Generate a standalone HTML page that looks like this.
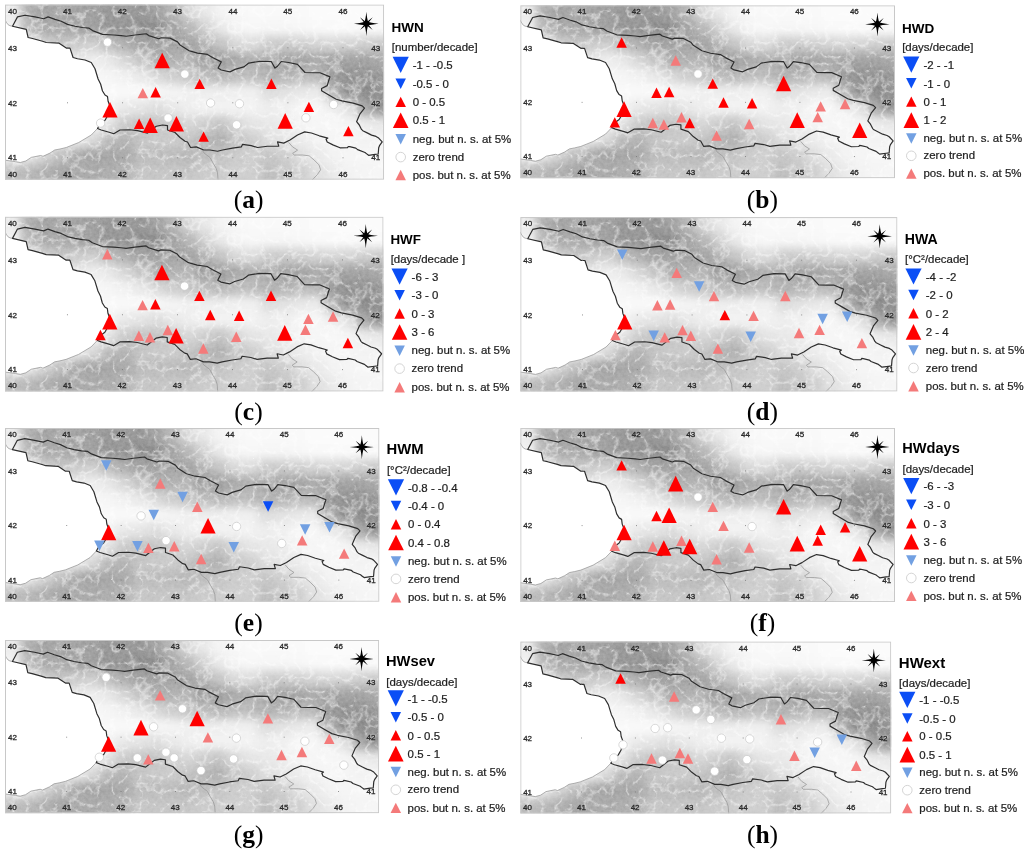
<!DOCTYPE html>
<html><head><meta charset="utf-8"><title>Heat wave indices trends</title>
<style>
html,body{margin:0;padding:0;background:#fff;}
body{width:1024px;height:851px;overflow:hidden;position:relative;}
svg{position:absolute;left:0;top:0;display:block;}
.lg{font-family:"Liberation Sans",Arial,sans-serif;fill:#1e1e1e;stroke:#1e1e1e;stroke-width:0.22px;}
.tt{font-family:"Liberation Sans",Arial,sans-serif;font-weight:bold;fill:#000;}
.lb{font-family:"Liberation Serif","Times New Roman",serif;fill:#000;}
.tk{font-family:"Liberation Sans",Arial,sans-serif;fill:#2a2a2a;stroke:#2a2a2a;stroke-width:0.3px;text-anchor:middle;}
</style></head><body>
<svg width="1024" height="851" viewBox="0 0 1024 851">
<defs><filter id="blur" x="-5%" y="-5%" width="110%" height="110%" color-interpolation-filters="sRGB"><feGaussianBlur in="SourceGraphic" stdDeviation="5" result="base"/><feTurbulence type="turbulence" baseFrequency="0.07" numOctaves="3" seed="11" result="tb"/><feColorMatrix in="tb" type="matrix" values="0 0 0 0 0 0 0 0 0 0 0 0 0 0 0 1 0 0 0 0" result="ta"/><feComponentTransfer in="ta" result="v0"><feFuncA type="linear" slope="-4" intercept="1"/></feComponentTransfer><feGaussianBlur in="v0" stdDeviation="0.35" result="v"/><feColorMatrix in="v" type="matrix" values="0 0 0 1 0 0 0 0 1 0 0 0 0 1 0 0 0 0 0 1" result="vg"/><feComposite in="base" in2="vg" operator="arithmetic" k1="-0.6" k2="1.12" k3="0.6" k4="-0.12" result="b2"/><feTurbulence type="fractalNoise" baseFrequency="0.3" numOctaves="3" seed="7" result="nz"/><feColorMatrix in="nz" type="matrix" values="1 0 0 0 0 1 0 0 0 0 1 0 0 0 0 0 0 0 0 1" result="gn"/><feComposite in="b2" in2="gn" operator="arithmetic" k1="-0.3" k2="1.15" k3="0.3" k4="-0.15"/></filter><clipPath id="mclip"><rect x="5" y="4.5" width="379.1" height="175.2"/></clipPath><symbol id="map" viewBox="5 4.5 379.1 175.2" preserveAspectRatio="none"><g clip-path="url(#mclip)"><g filter="url(#blur)"><rect x="-11" y="-12" width="17" height="17" fill="#eeeeee"/><rect x="5" y="-12" width="17" height="17" fill="#eeeeee"/><rect x="21" y="-12" width="17" height="17" fill="#bababa"/><rect x="37" y="-12" width="17" height="17" fill="#aeaeae"/><rect x="53" y="-12" width="17" height="17" fill="#b4b4b4"/><rect x="69" y="-12" width="17" height="17" fill="#aeaeae"/><rect x="85" y="-12" width="17" height="17" fill="#acacac"/><rect x="101" y="-12" width="17" height="17" fill="#a4a4a4"/><rect x="117" y="-12" width="17" height="17" fill="#a8a8a8"/><rect x="133" y="-12" width="17" height="17" fill="#a4a4a4"/><rect x="149" y="-12" width="17" height="17" fill="#acacac"/><rect x="165" y="-12" width="17" height="17" fill="#c0c0c0"/><rect x="181" y="-12" width="17" height="17" fill="#dcdcdc"/><rect x="197" y="-12" width="17" height="17" fill="#ebebeb"/><rect x="213" y="-12" width="17" height="17" fill="#f5f5f5"/><rect x="229" y="-12" width="17" height="17" fill="#f8f8f8"/><rect x="245" y="-12" width="17" height="17" fill="#fafafa"/><rect x="261" y="-12" width="17" height="17" fill="#fafafa"/><rect x="277" y="-12" width="17" height="17" fill="#fafafa"/><rect x="293" y="-12" width="17" height="17" fill="#fafafa"/><rect x="309" y="-12" width="17" height="17" fill="#fbfbfb"/><rect x="325" y="-12" width="17" height="17" fill="#fbfbfb"/><rect x="341" y="-12" width="17" height="17" fill="#fbfbfb"/><rect x="357" y="-12" width="17" height="17" fill="#fbfbfb"/><rect x="373" y="-12" width="17" height="17" fill="#fbfbfb"/><rect x="389" y="-12" width="17" height="17" fill="#fbfbfb"/><rect x="-11" y="4" width="17" height="17" fill="#eeeeee"/><rect x="5" y="4" width="17" height="17" fill="#eeeeee"/><rect x="21" y="4" width="17" height="17" fill="#bababa"/><rect x="37" y="4" width="17" height="17" fill="#aeaeae"/><rect x="53" y="4" width="17" height="17" fill="#b4b4b4"/><rect x="69" y="4" width="17" height="17" fill="#aeaeae"/><rect x="85" y="4" width="17" height="17" fill="#acacac"/><rect x="101" y="4" width="17" height="17" fill="#a4a4a4"/><rect x="117" y="4" width="17" height="17" fill="#a8a8a8"/><rect x="133" y="4" width="17" height="17" fill="#a4a4a4"/><rect x="149" y="4" width="17" height="17" fill="#acacac"/><rect x="165" y="4" width="17" height="17" fill="#c0c0c0"/><rect x="181" y="4" width="17" height="17" fill="#dcdcdc"/><rect x="197" y="4" width="17" height="17" fill="#ebebeb"/><rect x="213" y="4" width="17" height="17" fill="#f5f5f5"/><rect x="229" y="4" width="17" height="17" fill="#f8f8f8"/><rect x="245" y="4" width="17" height="17" fill="#fafafa"/><rect x="261" y="4" width="17" height="17" fill="#fafafa"/><rect x="277" y="4" width="17" height="17" fill="#fafafa"/><rect x="293" y="4" width="17" height="17" fill="#fafafa"/><rect x="309" y="4" width="17" height="17" fill="#fbfbfb"/><rect x="325" y="4" width="17" height="17" fill="#fbfbfb"/><rect x="341" y="4" width="17" height="17" fill="#fbfbfb"/><rect x="357" y="4" width="17" height="17" fill="#fbfbfb"/><rect x="373" y="4" width="17" height="17" fill="#fbfbfb"/><rect x="389" y="4" width="17" height="17" fill="#fbfbfb"/><rect x="-11" y="20" width="17" height="17" fill="#f5f5f5"/><rect x="5" y="20" width="17" height="17" fill="#f5f5f5"/><rect x="21" y="20" width="17" height="17" fill="#c0c0c0"/><rect x="37" y="20" width="17" height="17" fill="#b4b4b4"/><rect x="53" y="20" width="17" height="17" fill="#b4b4b4"/><rect x="69" y="20" width="17" height="17" fill="#aeaeae"/><rect x="85" y="20" width="17" height="17" fill="#acacac"/><rect x="101" y="20" width="17" height="17" fill="#a2a2a2"/><rect x="117" y="20" width="17" height="17" fill="#a2a2a2"/><rect x="133" y="20" width="17" height="17" fill="#9c9c9c"/><rect x="149" y="20" width="17" height="17" fill="#9c9c9c"/><rect x="165" y="20" width="17" height="17" fill="#aeaeae"/><rect x="181" y="20" width="17" height="17" fill="#c0c0c0"/><rect x="197" y="20" width="17" height="17" fill="#d7d7d7"/><rect x="213" y="20" width="17" height="17" fill="#ebebeb"/><rect x="229" y="20" width="17" height="17" fill="#f5f5f5"/><rect x="245" y="20" width="17" height="17" fill="#f8f8f8"/><rect x="261" y="20" width="17" height="17" fill="#f7f7f7"/><rect x="277" y="20" width="17" height="17" fill="#f7f7f7"/><rect x="293" y="20" width="17" height="17" fill="#f8f8f8"/><rect x="309" y="20" width="17" height="17" fill="#fafafa"/><rect x="325" y="20" width="17" height="17" fill="#fafafa"/><rect x="341" y="20" width="17" height="17" fill="#fafafa"/><rect x="357" y="20" width="17" height="17" fill="#fafafa"/><rect x="373" y="20" width="17" height="17" fill="#fafafa"/><rect x="389" y="20" width="17" height="17" fill="#fafafa"/><rect x="-11" y="36" width="17" height="17" fill="#fcfcfc"/><rect x="5" y="36" width="17" height="17" fill="#fcfcfc"/><rect x="21" y="36" width="17" height="17" fill="#f5f5f5"/><rect x="37" y="36" width="17" height="17" fill="#d7d7d7"/><rect x="53" y="36" width="17" height="17" fill="#cccccc"/><rect x="69" y="36" width="17" height="17" fill="#d2d2d2"/><rect x="85" y="36" width="17" height="17" fill="#d7d7d7"/><rect x="101" y="36" width="17" height="17" fill="#c6c6c6"/><rect x="117" y="36" width="17" height="17" fill="#bababa"/><rect x="133" y="36" width="17" height="17" fill="#aeaeae"/><rect x="149" y="36" width="17" height="17" fill="#aeaeae"/><rect x="165" y="36" width="17" height="17" fill="#aeaeae"/><rect x="181" y="36" width="17" height="17" fill="#aeaeae"/><rect x="197" y="36" width="17" height="17" fill="#bababa"/><rect x="213" y="36" width="17" height="17" fill="#cccccc"/><rect x="229" y="36" width="17" height="17" fill="#dedede"/><rect x="245" y="36" width="17" height="17" fill="#e1e1e1"/><rect x="261" y="36" width="17" height="17" fill="#d2d2d2"/><rect x="277" y="36" width="17" height="17" fill="#d2d2d2"/><rect x="293" y="36" width="17" height="17" fill="#d5d5d5"/><rect x="309" y="36" width="17" height="17" fill="#d9d9d9"/><rect x="325" y="36" width="17" height="17" fill="#dcdcdc"/><rect x="341" y="36" width="17" height="17" fill="#d9d9d9"/><rect x="357" y="36" width="17" height="17" fill="#d5d5d5"/><rect x="373" y="36" width="17" height="17" fill="#d2d2d2"/><rect x="389" y="36" width="17" height="17" fill="#d2d2d2"/><rect x="-11" y="52" width="17" height="17" fill="#fcfcfc"/><rect x="5" y="52" width="17" height="17" fill="#fcfcfc"/><rect x="21" y="52" width="17" height="17" fill="#fcfcfc"/><rect x="37" y="52" width="17" height="17" fill="#fcfcfc"/><rect x="53" y="52" width="17" height="17" fill="#f0f0f0"/><rect x="69" y="52" width="17" height="17" fill="#ebebeb"/><rect x="85" y="52" width="17" height="17" fill="#f0f0f0"/><rect x="101" y="52" width="17" height="17" fill="#ebebeb"/><rect x="117" y="52" width="17" height="17" fill="#dcdcdc"/><rect x="133" y="52" width="17" height="17" fill="#cccccc"/><rect x="149" y="52" width="17" height="17" fill="#bababa"/><rect x="165" y="52" width="17" height="17" fill="#bababa"/><rect x="181" y="52" width="17" height="17" fill="#c0c0c0"/><rect x="197" y="52" width="17" height="17" fill="#a8a8a8"/><rect x="213" y="52" width="17" height="17" fill="#a8a8a8"/><rect x="229" y="52" width="17" height="17" fill="#b4b4b4"/><rect x="245" y="52" width="17" height="17" fill="#bababa"/><rect x="261" y="52" width="17" height="17" fill="#b4b4b4"/><rect x="277" y="52" width="17" height="17" fill="#aeaeae"/><rect x="293" y="52" width="17" height="17" fill="#aeaeae"/><rect x="309" y="52" width="17" height="17" fill="#b4b4b4"/><rect x="325" y="52" width="17" height="17" fill="#aeaeae"/><rect x="341" y="52" width="17" height="17" fill="#aeaeae"/><rect x="357" y="52" width="17" height="17" fill="#aeaeae"/><rect x="373" y="52" width="17" height="17" fill="#b4b4b4"/><rect x="389" y="52" width="17" height="17" fill="#b4b4b4"/><rect x="-11" y="68" width="17" height="17" fill="#fcfcfc"/><rect x="5" y="68" width="17" height="17" fill="#fcfcfc"/><rect x="21" y="68" width="17" height="17" fill="#fcfcfc"/><rect x="37" y="68" width="17" height="17" fill="#fcfcfc"/><rect x="53" y="68" width="17" height="17" fill="#fcfcfc"/><rect x="69" y="68" width="17" height="17" fill="#fafafa"/><rect x="85" y="68" width="17" height="17" fill="#f8f8f8"/><rect x="101" y="68" width="17" height="17" fill="#f6f6f6"/><rect x="117" y="68" width="17" height="17" fill="#f2f2f2"/><rect x="133" y="68" width="17" height="17" fill="#ebebeb"/><rect x="149" y="68" width="17" height="17" fill="#dedede"/><rect x="165" y="68" width="17" height="17" fill="#d4d4d4"/><rect x="181" y="68" width="17" height="17" fill="#cccccc"/><rect x="197" y="68" width="17" height="17" fill="#c5c5c5"/><rect x="213" y="68" width="17" height="17" fill="#bfbfbf"/><rect x="229" y="68" width="17" height="17" fill="#c5c5c5"/><rect x="245" y="68" width="17" height="17" fill="#c5c5c5"/><rect x="261" y="68" width="17" height="17" fill="#bcbcbc"/><rect x="277" y="68" width="17" height="17" fill="#bcbcbc"/><rect x="293" y="68" width="17" height="17" fill="#c2c2c2"/><rect x="309" y="68" width="17" height="17" fill="#c2c2c2"/><rect x="325" y="68" width="17" height="17" fill="#a6a6a6"/><rect x="341" y="68" width="17" height="17" fill="#a0a0a0"/><rect x="357" y="68" width="17" height="17" fill="#a0a0a0"/><rect x="373" y="68" width="17" height="17" fill="#a6a6a6"/><rect x="389" y="68" width="17" height="17" fill="#a6a6a6"/><rect x="-11" y="84" width="17" height="17" fill="#fcfcfc"/><rect x="5" y="84" width="17" height="17" fill="#fcfcfc"/><rect x="21" y="84" width="17" height="17" fill="#fcfcfc"/><rect x="37" y="84" width="17" height="17" fill="#fcfcfc"/><rect x="53" y="84" width="17" height="17" fill="#fcfcfc"/><rect x="69" y="84" width="17" height="17" fill="#fcfcfc"/><rect x="85" y="84" width="17" height="17" fill="#fcfcfc"/><rect x="101" y="84" width="17" height="17" fill="#fafafa"/><rect x="117" y="84" width="17" height="17" fill="#fafafa"/><rect x="133" y="84" width="17" height="17" fill="#fafafa"/><rect x="149" y="84" width="17" height="17" fill="#f8f8f8"/><rect x="165" y="84" width="17" height="17" fill="#f5f5f5"/><rect x="181" y="84" width="17" height="17" fill="#f2f2f2"/><rect x="197" y="84" width="17" height="17" fill="#f0f0f0"/><rect x="213" y="84" width="17" height="17" fill="#f0f0f0"/><rect x="229" y="84" width="17" height="17" fill="#f2f2f2"/><rect x="245" y="84" width="17" height="17" fill="#f2f2f2"/><rect x="261" y="84" width="17" height="17" fill="#e1e1e1"/><rect x="277" y="84" width="17" height="17" fill="#e6e6e6"/><rect x="293" y="84" width="17" height="17" fill="#ebebeb"/><rect x="309" y="84" width="17" height="17" fill="#eeeeee"/><rect x="325" y="84" width="17" height="17" fill="#bebebe"/><rect x="341" y="84" width="17" height="17" fill="#9d9d9d"/><rect x="357" y="84" width="17" height="17" fill="#9a9a9a"/><rect x="373" y="84" width="17" height="17" fill="#9d9d9d"/><rect x="389" y="84" width="17" height="17" fill="#9d9d9d"/><rect x="-11" y="100" width="17" height="17" fill="#fcfcfc"/><rect x="5" y="100" width="17" height="17" fill="#fcfcfc"/><rect x="21" y="100" width="17" height="17" fill="#fcfcfc"/><rect x="37" y="100" width="17" height="17" fill="#fcfcfc"/><rect x="53" y="100" width="17" height="17" fill="#fcfcfc"/><rect x="69" y="100" width="17" height="17" fill="#fcfcfc"/><rect x="85" y="100" width="17" height="17" fill="#fcfcfc"/><rect x="101" y="100" width="17" height="17" fill="#f5f5f5"/><rect x="117" y="100" width="17" height="17" fill="#ebebeb"/><rect x="133" y="100" width="17" height="17" fill="#e8e8e8"/><rect x="149" y="100" width="17" height="17" fill="#e1e1e1"/><rect x="165" y="100" width="17" height="17" fill="#ebebeb"/><rect x="181" y="100" width="17" height="17" fill="#f0f0f0"/><rect x="197" y="100" width="17" height="17" fill="#f4f4f4"/><rect x="213" y="100" width="17" height="17" fill="#f4f4f4"/><rect x="229" y="100" width="17" height="17" fill="#f4f4f4"/><rect x="245" y="100" width="17" height="17" fill="#f4f4f4"/><rect x="261" y="100" width="17" height="17" fill="#f0f0f0"/><rect x="277" y="100" width="17" height="17" fill="#f2f2f2"/><rect x="293" y="100" width="17" height="17" fill="#f6f6f6"/><rect x="309" y="100" width="17" height="17" fill="#f8f8f8"/><rect x="325" y="100" width="17" height="17" fill="#f0f0f0"/><rect x="341" y="100" width="17" height="17" fill="#e4e4e4"/><rect x="357" y="100" width="17" height="17" fill="#b4b4b4"/><rect x="373" y="100" width="17" height="17" fill="#a2a2a2"/><rect x="389" y="100" width="17" height="17" fill="#a2a2a2"/><rect x="-11" y="116" width="17" height="17" fill="#fcfcfc"/><rect x="5" y="116" width="17" height="17" fill="#fcfcfc"/><rect x="21" y="116" width="17" height="17" fill="#fcfcfc"/><rect x="37" y="116" width="17" height="17" fill="#fcfcfc"/><rect x="53" y="116" width="17" height="17" fill="#fcfcfc"/><rect x="69" y="116" width="17" height="17" fill="#fcfcfc"/><rect x="85" y="116" width="17" height="17" fill="#fafafa"/><rect x="101" y="116" width="17" height="17" fill="#e6e6e6"/><rect x="117" y="116" width="17" height="17" fill="#d2d2d2"/><rect x="133" y="116" width="17" height="17" fill="#cccccc"/><rect x="149" y="116" width="17" height="17" fill="#cccccc"/><rect x="165" y="116" width="17" height="17" fill="#d4d4d4"/><rect x="181" y="116" width="17" height="17" fill="#dcdcdc"/><rect x="197" y="116" width="17" height="17" fill="#d4d4d4"/><rect x="213" y="116" width="17" height="17" fill="#cccccc"/><rect x="229" y="116" width="17" height="17" fill="#dedede"/><rect x="245" y="116" width="17" height="17" fill="#e8e8e8"/><rect x="261" y="116" width="17" height="17" fill="#ebebeb"/><rect x="277" y="116" width="17" height="17" fill="#eeeeee"/><rect x="293" y="116" width="17" height="17" fill="#f5f5f5"/><rect x="309" y="116" width="17" height="17" fill="#f7f7f7"/><rect x="325" y="116" width="17" height="17" fill="#f8f8f8"/><rect x="341" y="116" width="17" height="17" fill="#f6f6f6"/><rect x="357" y="116" width="17" height="17" fill="#eeeeee"/><rect x="373" y="116" width="17" height="17" fill="#ebebeb"/><rect x="389" y="116" width="17" height="17" fill="#ebebeb"/><rect x="-11" y="132" width="17" height="17" fill="#fcfcfc"/><rect x="5" y="132" width="17" height="17" fill="#fcfcfc"/><rect x="21" y="132" width="17" height="17" fill="#fcfcfc"/><rect x="37" y="132" width="17" height="17" fill="#fcfcfc"/><rect x="53" y="132" width="17" height="17" fill="#fcfcfc"/><rect x="69" y="132" width="17" height="17" fill="#f0f0f0"/><rect x="85" y="132" width="17" height="17" fill="#dedede"/><rect x="101" y="132" width="17" height="17" fill="#c5c5c5"/><rect x="117" y="132" width="17" height="17" fill="#bcbcbc"/><rect x="133" y="132" width="17" height="17" fill="#cccccc"/><rect x="149" y="132" width="17" height="17" fill="#d0d0d0"/><rect x="165" y="132" width="17" height="17" fill="#d2d2d2"/><rect x="181" y="132" width="17" height="17" fill="#cccccc"/><rect x="197" y="132" width="17" height="17" fill="#c0c0c0"/><rect x="213" y="132" width="17" height="17" fill="#bababa"/><rect x="229" y="132" width="17" height="17" fill="#cccccc"/><rect x="245" y="132" width="17" height="17" fill="#d4d4d4"/><rect x="261" y="132" width="17" height="17" fill="#e2e2e2"/><rect x="277" y="132" width="17" height="17" fill="#e8e8e8"/><rect x="293" y="132" width="17" height="17" fill="#eeeeee"/><rect x="309" y="132" width="17" height="17" fill="#f4f4f4"/><rect x="325" y="132" width="17" height="17" fill="#f6f6f6"/><rect x="341" y="132" width="17" height="17" fill="#f6f6f6"/><rect x="357" y="132" width="17" height="17" fill="#f4f4f4"/><rect x="373" y="132" width="17" height="17" fill="#f5f5f5"/><rect x="389" y="132" width="17" height="17" fill="#f5f5f5"/><rect x="-11" y="148" width="17" height="17" fill="#f5f5f5"/><rect x="5" y="148" width="17" height="17" fill="#f5f5f5"/><rect x="21" y="148" width="17" height="17" fill="#ebebeb"/><rect x="37" y="148" width="17" height="17" fill="#d7d7d7"/><rect x="53" y="148" width="17" height="17" fill="#c6c6c6"/><rect x="69" y="148" width="17" height="17" fill="#b4b4b4"/><rect x="85" y="148" width="17" height="17" fill="#b0b0b0"/><rect x="101" y="148" width="17" height="17" fill="#b0b0b0"/><rect x="117" y="148" width="17" height="17" fill="#b4b4b4"/><rect x="133" y="148" width="17" height="17" fill="#c4c4c4"/><rect x="149" y="148" width="17" height="17" fill="#c4c4c4"/><rect x="165" y="148" width="17" height="17" fill="#c4c4c4"/><rect x="181" y="148" width="17" height="17" fill="#c0c0c0"/><rect x="197" y="148" width="17" height="17" fill="#c6c6c6"/><rect x="213" y="148" width="17" height="17" fill="#cccccc"/><rect x="229" y="148" width="17" height="17" fill="#d2d2d2"/><rect x="245" y="148" width="17" height="17" fill="#d4d4d4"/><rect x="261" y="148" width="17" height="17" fill="#cccccc"/><rect x="277" y="148" width="17" height="17" fill="#d4d4d4"/><rect x="293" y="148" width="17" height="17" fill="#e4e4e4"/><rect x="309" y="148" width="17" height="17" fill="#ececec"/><rect x="325" y="148" width="17" height="17" fill="#f4f4f4"/><rect x="341" y="148" width="17" height="17" fill="#f6f6f6"/><rect x="357" y="148" width="17" height="17" fill="#f7f7f7"/><rect x="373" y="148" width="17" height="17" fill="#f7f7f7"/><rect x="389" y="148" width="17" height="17" fill="#f7f7f7"/><rect x="-11" y="164" width="17" height="17" fill="#c6c6c6"/><rect x="5" y="164" width="17" height="17" fill="#c6c6c6"/><rect x="21" y="164" width="17" height="17" fill="#c0c0c0"/><rect x="37" y="164" width="17" height="17" fill="#bababa"/><rect x="53" y="164" width="17" height="17" fill="#b0b0b0"/><rect x="69" y="164" width="17" height="17" fill="#b4b4b4"/><rect x="85" y="164" width="17" height="17" fill="#b4b4b4"/><rect x="101" y="164" width="17" height="17" fill="#b8b8b8"/><rect x="117" y="164" width="17" height="17" fill="#bcbcbc"/><rect x="133" y="164" width="17" height="17" fill="#cccccc"/><rect x="149" y="164" width="17" height="17" fill="#cccccc"/><rect x="165" y="164" width="17" height="17" fill="#cccccc"/><rect x="181" y="164" width="17" height="17" fill="#cccccc"/><rect x="197" y="164" width="17" height="17" fill="#d2d2d2"/><rect x="213" y="164" width="17" height="17" fill="#d2d2d2"/><rect x="229" y="164" width="17" height="17" fill="#d4d4d4"/><rect x="245" y="164" width="17" height="17" fill="#d4d4d4"/><rect x="261" y="164" width="17" height="17" fill="#c6c6c6"/><rect x="277" y="164" width="17" height="17" fill="#cccccc"/><rect x="293" y="164" width="17" height="17" fill="#d4d4d4"/><rect x="309" y="164" width="17" height="17" fill="#e4e4e4"/><rect x="325" y="164" width="17" height="17" fill="#ececec"/><rect x="341" y="164" width="17" height="17" fill="#f4f4f4"/><rect x="357" y="164" width="17" height="17" fill="#f6f6f6"/><rect x="373" y="164" width="17" height="17" fill="#f7f7f7"/><rect x="389" y="164" width="17" height="17" fill="#f7f7f7"/><rect x="-11" y="180" width="17" height="17" fill="#c6c6c6"/><rect x="5" y="180" width="17" height="17" fill="#c6c6c6"/><rect x="21" y="180" width="17" height="17" fill="#c0c0c0"/><rect x="37" y="180" width="17" height="17" fill="#bababa"/><rect x="53" y="180" width="17" height="17" fill="#b0b0b0"/><rect x="69" y="180" width="17" height="17" fill="#b4b4b4"/><rect x="85" y="180" width="17" height="17" fill="#b4b4b4"/><rect x="101" y="180" width="17" height="17" fill="#b8b8b8"/><rect x="117" y="180" width="17" height="17" fill="#bcbcbc"/><rect x="133" y="180" width="17" height="17" fill="#cccccc"/><rect x="149" y="180" width="17" height="17" fill="#cccccc"/><rect x="165" y="180" width="17" height="17" fill="#cccccc"/><rect x="181" y="180" width="17" height="17" fill="#cccccc"/><rect x="197" y="180" width="17" height="17" fill="#d2d2d2"/><rect x="213" y="180" width="17" height="17" fill="#d2d2d2"/><rect x="229" y="180" width="17" height="17" fill="#d4d4d4"/><rect x="245" y="180" width="17" height="17" fill="#d4d4d4"/><rect x="261" y="180" width="17" height="17" fill="#c6c6c6"/><rect x="277" y="180" width="17" height="17" fill="#cccccc"/><rect x="293" y="180" width="17" height="17" fill="#d4d4d4"/><rect x="309" y="180" width="17" height="17" fill="#e4e4e4"/><rect x="325" y="180" width="17" height="17" fill="#ececec"/><rect x="341" y="180" width="17" height="17" fill="#f4f4f4"/><rect x="357" y="180" width="17" height="17" fill="#f6f6f6"/><rect x="373" y="180" width="17" height="17" fill="#f7f7f7"/><rect x="389" y="180" width="17" height="17" fill="#f7f7f7"/></g><polygon points="4,19.2 6.5,22.5 8.1,24.7 10,25.7 12.5,26.25 26.25,29.4 28.1,37.5 32.5,38.5 42.5,41.25 46.25,42.5 58.75,43.1 66.25,48.1 70,48.1 73.1,57.5 77.5,58.75 85,60 91.25,62.5 95,68.75 98.1,79 100.6,84 102.5,91 105,95 107.5,96.5 108.1,101.25 110,106.25 108,115 105,120.25 100,124 97.5,128.5 91.25,135 78.75,142.5 66.25,147.5 60,149 54.7,150 50,153.1 43,156.3 40.6,155.5 31.3,157.4 25.8,161 20.3,162.5 15.6,161.7 4,160.2" fill="#fff"/><polyline points="4.5,19.2 6.5,22.5 8.1,24.7 10,25.7 12.5,26.2" fill="none" stroke="#9a9a9a" stroke-width="0.8" stroke-linejoin="round"/><polyline points="97.5,128.5 91.25,135 78.75,142.5 66.25,147.5 60,149 54.7,150 50,153.1 43,156.3 40.6,155.5 31.3,157.4 25.8,161 20.3,162.5 15.6,161.7 5,160.2" fill="none" stroke="#9a9a9a" stroke-width="0.8" stroke-linejoin="round"/><polyline points="202.5,150.3 204,153 210,157.5 213,163 216,168 217.5,172.5 218,179.7" fill="none" stroke="#9a9a9a" stroke-width="0.8" stroke-linejoin="round"/><polyline points="288.75,142.5 292.6,146.9 297.6,150.1 292.6,153.4 294.3,155 302.5,155 309.1,155.8 314,159.9 319,164.9 320.6,169.8 317.3,174.7 312.3,179.8" fill="none" stroke="#9a9a9a" stroke-width="0.8" stroke-linejoin="round"/><polygon points="12.5,26.25 17.5,16.9 25,15.25 35,16.9 43.75,18.75 48.1,16.9 55,19.4 61.25,21.25 67.5,24.4 75,26.25 82.5,27.5 88.75,28.1 92.5,30.6 102.5,34.4 113.75,35 121.25,35.6 126.25,36.25 135,35 146.25,33.75 148.75,35.6 158.75,38.75 161.25,37.75 170,38.1 177.5,41.9 180,45 188.75,50.6 197.5,53.1 207.5,54.4 212.5,57.5 221.25,61.9 218.1,68.1 221.25,70 230,71.9 235,69.4 243.75,66.9 248.75,63.1 260,61.25 271.25,61.5 275,68.1 277.5,66.25 281.25,61.5 288.75,62.5 297.5,64.4 305,72.5 312.5,72.75 320,72.75 330,76.9 328.9,80 327.2,85.6 321.6,88.5 321.6,90.7 328.4,94.7 336.2,99.2 341.9,100.9 353.2,103.1 362.2,105.9 364.5,108.2 360,113.8 356.6,121.7 359.3,125 361.5,129.4 362.8,130.7 367.2,132.9 371.6,135.1 376,136.4 378.2,137.7 382.2,141.9 379.5,145.7 378.7,147.8 378.2,154 375.1,154.4 368.6,155.3 366.4,153.6 365,152.5 357.6,149.6 355.8,148.1 349.7,146.7 348.3,146.5 347.5,147.6 340,147.8 332.9,144.9 327.2,142 326.1,139.2 327.8,138.1 319.3,135.8 311.4,133 304.7,131.9 297.5,135 290,140 283.75,143.1 277.5,141.9 278.75,146.25 267.5,146.25 257.5,147.5 251.25,145.6 242.5,144.4 241.25,146.9 232.5,148.1 222.5,150 217.5,151.25 210,150 203.75,150 196.25,146.9 190.6,147.5 187.5,142 185,141.25 180,137.5 175,132.5 167.5,130 167.5,125.6 162.5,125 156.25,126.25 147.5,133.1 137.5,130.6 130,129.75 120,130 113.75,133.75 110,132.5 101.25,130 97.5,128.5 100,124 105,120.25 108,115 110,106.25 108.1,101.25 107.5,96.5 105,95 102.5,91 100.6,84 98.1,79 95,68.75 91.25,62.5 85,60 77.5,58.75 73.1,57.5 70,48.1 66.25,48.1 58.75,43.1 46.25,42.5 42.5,41.25 32.5,38.5 28.1,37.5 26.25,29.4" fill="none" stroke="#2e2e2e" stroke-width="1.2" stroke-linejoin="round"/><rect x="67.05" y="47.35" width="0.9" height="0.9" fill="#777"/><rect x="67.05" y="102.35" width="0.9" height="0.9" fill="#777"/><rect x="67.05" y="157.35" width="0.9" height="0.9" fill="#777"/><rect x="122.15" y="47.35" width="0.9" height="0.9" fill="#777"/><rect x="122.15" y="102.35" width="0.9" height="0.9" fill="#777"/><rect x="122.15" y="157.35" width="0.9" height="0.9" fill="#777"/><rect x="177.25" y="47.35" width="0.9" height="0.9" fill="#777"/><rect x="177.25" y="102.35" width="0.9" height="0.9" fill="#777"/><rect x="177.25" y="157.35" width="0.9" height="0.9" fill="#777"/><rect x="232.35" y="47.35" width="0.9" height="0.9" fill="#777"/><rect x="232.35" y="102.35" width="0.9" height="0.9" fill="#777"/><rect x="232.35" y="157.35" width="0.9" height="0.9" fill="#777"/><rect x="287.45" y="47.35" width="0.9" height="0.9" fill="#777"/><rect x="287.45" y="102.35" width="0.9" height="0.9" fill="#777"/><rect x="287.45" y="157.35" width="0.9" height="0.9" fill="#777"/><rect x="342.55" y="47.35" width="0.9" height="0.9" fill="#777"/><rect x="342.55" y="102.35" width="0.9" height="0.9" fill="#777"/><rect x="342.55" y="157.35" width="0.9" height="0.9" fill="#777"/><path d="M366.35 11.7 Q367.15 19.9 368.25 21.8 Q370.15 22.9 378.55 23.7 Q370.15 24.5 368.25 25.6 Q367.15 27.5 366.35 36 Q365.55 27.5 364.45 25.6 Q362.55 24.5 353.95 23.7 Q362.55 22.9 364.45 21.8 Q365.55 19.9 366.35 11.7 Z" fill="#000"/><polygon points="372.71,30.06 365.61,24.44 367.09,22.96" fill="#000"/><polygon points="359.99,30.06 365.61,22.96 367.09,24.44" fill="#000"/><polygon points="359.99,17.34 367.09,22.96 365.61,24.44" fill="#000"/><polygon points="372.71,17.34 367.09,24.44 365.61,22.96" fill="#000"/></g><rect x="5.5" y="5" width="378.1" height="174.2" fill="none" stroke="#c8c8c8" stroke-width="1"/></symbol></defs>
<use href="#map" x="5" y="4.5" width="379.1" height="175.2"/>
<g><text x="12.4" y="13.8" class="tk" font-size="8.1">40</text><text x="12.4" y="176.6" class="tk" font-size="8.1">40</text><text x="67.5" y="13.8" class="tk" font-size="8.1">41</text><text x="67.5" y="176.6" class="tk" font-size="8.1">41</text><text x="122.3" y="13.8" class="tk" font-size="8.1">42</text><text x="122.3" y="176.6" class="tk" font-size="8.1">42</text><text x="177.5" y="13.8" class="tk" font-size="8.1">43</text><text x="177.5" y="176.6" class="tk" font-size="8.1">43</text><text x="232.9" y="13.8" class="tk" font-size="8.1">44</text><text x="232.9" y="176.6" class="tk" font-size="8.1">44</text><text x="287.7" y="13.8" class="tk" font-size="8.1">45</text><text x="287.7" y="176.6" class="tk" font-size="8.1">45</text><text x="343" y="13.8" class="tk" font-size="8.1">46</text><text x="343" y="176.6" class="tk" font-size="8.1">46</text><text x="12.5" y="50.5" class="tk" font-size="8.1">43</text><text x="375.8" y="50.5" class="tk" font-size="8.1">43</text><text x="12.5" y="105.6" class="tk" font-size="8.1">42</text><text x="375.8" y="105.6" class="tk" font-size="8.1">42</text><text x="12.5" y="160.4" class="tk" font-size="8.1">41</text><text x="375.8" y="160.4" class="tk" font-size="8.1">41</text></g>
<g><circle cx="107.5" cy="42.2" r="4.2" fill="#fff" stroke="#c8c8c8" stroke-width="0.7"/><polygon points="162.2,52.7 169.8,68.3 154.6,68.3" fill="#ff0000"/><circle cx="184.8" cy="74.1" r="4.2" fill="#fff" stroke="#c8c8c8" stroke-width="0.7"/><polygon points="199.7,78.7 204.95,89.1 194.45,89.1" fill="#ff0000"/><polygon points="271.4,78.55 276.65,88.95 266.15,88.95" fill="#ff0000"/><polygon points="142.8,87.9 148.05,98.3 137.55,98.3" fill="#f47a7a"/><polygon points="155.6,87.1 160.85,97.5 150.35,97.5" fill="#ff0000"/><circle cx="210.6" cy="103" r="4.2" fill="#fff" stroke="#c8c8c8" stroke-width="0.7"/><circle cx="239.5" cy="103.75" r="4.2" fill="#fff" stroke="#c8c8c8" stroke-width="0.7"/><polygon points="110,101.9 117.6,117.5 102.4,117.5" fill="#ff0000"/><polygon points="308.9,101.7 314.15,112.1 303.65,112.1" fill="#ff0000"/><circle cx="333.6" cy="104.5" r="4.2" fill="#fff" stroke="#c8c8c8" stroke-width="0.7"/><circle cx="100.6" cy="123.1" r="4.2" fill="#fff" stroke="#c8c8c8" stroke-width="0.7"/><polygon points="139.1,118.55 144.35,128.95 133.85,128.95" fill="#ff0000"/><polygon points="150.2,117.5 157.8,133.1 142.6,133.1" fill="#ff0000"/><circle cx="168.1" cy="118" r="4.2" fill="#fff" stroke="#c8c8c8" stroke-width="0.7"/><polygon points="176.4,115.95 184,131.55 168.8,131.55" fill="#ff0000"/><circle cx="236.6" cy="124.8" r="4.2" fill="#fff" stroke="#c8c8c8" stroke-width="0.7"/><polygon points="285.2,113.1 292.8,128.7 277.6,128.7" fill="#ff0000"/><circle cx="305.9" cy="117.8" r="4.2" fill="#fff" stroke="#c8c8c8" stroke-width="0.7"/><polygon points="203.6,131.4 208.85,141.8 198.35,141.8" fill="#ff0000"/><polygon points="348.4,125.9 353.65,136.3 343.15,136.3" fill="#ff0000"/></g>
<text class="tt" x="391.5" y="31.63" font-size="13.5">HWN</text><text class="lg" x="391.8" y="51" font-size="11.45">[number/decade]</text><polygon points="392.6,56.7 408.8,56.7 400.7,72.9" fill="#0b4ef5"/><text class="lg" x="412.7" y="69" font-size="11.45">-1 - -0.5</text><polygon points="395.45,78.55 405.95,78.55 400.7,89.05" fill="#0b4ef5"/><text class="lg" x="412.7" y="88" font-size="11.45">-0.5 - 0</text><polygon points="400.7,96.7 405.95,107.1 395.45,107.1" fill="#ff0000"/><text class="lg" x="412.7" y="106.1" font-size="11.45">0 - 0.5</text><polygon points="400.7,112.4 408.5,128 392.9,128" fill="#ff0000"/><text class="lg" x="412.7" y="124.4" font-size="11.45">0.5 - 1</text><polygon points="395.45,133.95 405.95,133.95 400.7,144.45" fill="#72a0e2"/><text class="lg" x="412.7" y="142.8" font-size="11.45">neg. but n. s. at 5%</text><circle cx="400.7" cy="157.1" r="4.8" fill="#fff" stroke="#cfcfcf" stroke-width="0.9"/><text class="lg" x="412.7" y="160.7" font-size="11.45">zero trend</text><polygon points="400.7,169.8 405.95,180.2 395.45,180.2" fill="#f47a7a"/><text class="lg" x="412.7" y="178.6" font-size="11.45">pos. but n. s. at 5%</text>
<text class="lb" x="248.7" y="208.1" font-size="25.5" text-anchor="middle">(<tspan font-weight="bold">a</tspan>)</text>
<use href="#map" x="520.3" y="5.3" width="374.7" height="172.9"/>
<g><text x="527.61" y="14.48" class="tk" font-size="8">40</text><text x="527.61" y="175.14" class="tk" font-size="8">40</text><text x="582.07" y="14.48" class="tk" font-size="8">41</text><text x="582.07" y="175.14" class="tk" font-size="8">41</text><text x="636.24" y="14.48" class="tk" font-size="8">42</text><text x="636.24" y="175.14" class="tk" font-size="8">42</text><text x="690.8" y="14.48" class="tk" font-size="8">43</text><text x="690.8" y="175.14" class="tk" font-size="8">43</text><text x="745.55" y="14.48" class="tk" font-size="8">44</text><text x="745.55" y="175.14" class="tk" font-size="8">44</text><text x="799.72" y="14.48" class="tk" font-size="8">45</text><text x="799.72" y="175.14" class="tk" font-size="8">45</text><text x="854.38" y="14.48" class="tk" font-size="8">46</text><text x="854.38" y="175.14" class="tk" font-size="8">46</text><text x="527.71" y="50.7" class="tk" font-size="8">43</text><text x="886.8" y="50.7" class="tk" font-size="8">43</text><text x="527.71" y="105.07" class="tk" font-size="8">42</text><text x="886.8" y="105.07" class="tk" font-size="8">42</text><text x="527.71" y="159.15" class="tk" font-size="8">41</text><text x="886.8" y="159.15" class="tk" font-size="8">41</text></g>
<g><polygon points="621.61,37.31 626.86,47.71 616.36,47.71" fill="#ff0000"/><polygon points="675.68,55.36 680.93,65.76 670.43,65.76" fill="#f47a7a"/><circle cx="698.01" cy="73.99" r="4.2" fill="#fff" stroke="#c8c8c8" stroke-width="0.7"/><polygon points="712.74,78.46 717.99,88.86 707.49,88.86" fill="#ff0000"/><polygon points="783.61,75.71 791.21,91.31 776.01,91.31" fill="#ff0000"/><polygon points="656.5,87.54 661.75,97.94 651.25,97.94" fill="#ff0000"/><polygon points="669.15,86.75 674.4,97.15 663.9,97.15" fill="#ff0000"/><polygon points="723.51,97.31 728.76,107.71 718.26,107.71" fill="#ff0000"/><polygon points="752.08,98.05 757.33,108.45 746.83,108.45" fill="#ff0000"/><polygon points="624.08,101.32 631.68,116.92 616.48,116.92" fill="#ff0000"/><polygon points="820.67,101.16 825.92,111.56 815.42,111.56" fill="#f47a7a"/><polygon points="845.09,98.79 850.34,109.19 839.84,109.19" fill="#f47a7a"/><polygon points="614.79,117.14 620.04,127.54 609.54,127.54" fill="#ff0000"/><polygon points="652.84,117.78 658.09,128.18 647.59,128.18" fill="#f47a7a"/><polygon points="663.81,119.31 669.06,129.71 658.56,129.71" fill="#f47a7a"/><polygon points="681.51,112.11 686.76,122.51 676.26,122.51" fill="#f47a7a"/><polygon points="689.71,117.78 694.96,128.18 684.46,128.18" fill="#ff0000"/><polygon points="749.21,118.82 754.46,129.22 743.96,129.22" fill="#f47a7a"/><polygon points="797.25,112.37 804.85,127.97 789.65,127.97" fill="#ff0000"/><polygon points="817.71,111.91 822.96,122.31 812.46,122.31" fill="#f47a7a"/><polygon points="716.59,130.47 721.84,140.87 711.34,140.87" fill="#f47a7a"/><polygon points="859.71,122.44 867.31,138.04 852.11,138.04" fill="#ff0000"/></g>
<text class="tt" x="901.9" y="32.73" font-size="13.5">HWD</text><text class="lg" x="902.2" y="51.3" font-size="11.45">[days/decade]</text><polygon points="903.2,56.6 919.4,56.6 911.3,72.8" fill="#0b4ef5"/><text class="lg" x="923.5" y="68.9" font-size="11.45">-2 - -1</text><polygon points="906.05,78.05 916.55,78.05 911.3,88.55" fill="#0b4ef5"/><text class="lg" x="923.5" y="87.5" font-size="11.45">-1 - 0</text><polygon points="911.3,96.4 916.55,106.8 906.05,106.8" fill="#ff0000"/><text class="lg" x="923.5" y="105.8" font-size="11.45">0 - 1</text><polygon points="911.3,112.3 919.1,127.9 903.5,127.9" fill="#ff0000"/><text class="lg" x="923.5" y="124.3" font-size="11.45">1 - 2</text><polygon points="906.05,133.15 916.55,133.15 911.3,143.65" fill="#72a0e2"/><text class="lg" x="923.5" y="142" font-size="11.45">neg. but n. s. at 5%</text><circle cx="911.3" cy="155.8" r="4.8" fill="#fff" stroke="#cfcfcf" stroke-width="0.9"/><text class="lg" x="923.5" y="159.4" font-size="11.45">zero trend</text><polygon points="911.3,168.4 916.55,178.8 906.05,178.8" fill="#f47a7a"/><text class="lg" x="923.5" y="177.2" font-size="11.45">pos. but n. s. at 5%</text>
<text class="lb" x="762.4" y="208.1" font-size="25.5" text-anchor="middle">(<tspan font-weight="bold">b</tspan>)</text>
<use href="#map" x="5" y="216.7" width="378.5" height="174.8"/>
<g><text x="12.39" y="225.98" class="tk" font-size="8.08">40</text><text x="12.39" y="388.41" class="tk" font-size="8.08">40</text><text x="67.4" y="225.98" class="tk" font-size="8.08">41</text><text x="67.4" y="388.41" class="tk" font-size="8.08">41</text><text x="122.11" y="225.98" class="tk" font-size="8.08">42</text><text x="122.11" y="388.41" class="tk" font-size="8.08">42</text><text x="177.23" y="225.98" class="tk" font-size="8.08">43</text><text x="177.23" y="388.41" class="tk" font-size="8.08">43</text><text x="232.54" y="225.98" class="tk" font-size="8.08">44</text><text x="232.54" y="388.41" class="tk" font-size="8.08">44</text><text x="287.25" y="225.98" class="tk" font-size="8.08">45</text><text x="287.25" y="388.41" class="tk" font-size="8.08">45</text><text x="342.47" y="225.98" class="tk" font-size="8.08">46</text><text x="342.47" y="388.41" class="tk" font-size="8.08">46</text><text x="12.49" y="262.59" class="tk" font-size="8.08">43</text><text x="375.21" y="262.59" class="tk" font-size="8.08">43</text><text x="12.49" y="317.57" class="tk" font-size="8.08">42</text><text x="375.21" y="317.57" class="tk" font-size="8.08">42</text><text x="12.49" y="372.24" class="tk" font-size="8.08">41</text><text x="375.21" y="372.24" class="tk" font-size="8.08">41</text></g>
<g><polygon points="107.34,249.11 112.59,259.51 102.09,259.51" fill="#f47a7a"/><polygon points="161.95,264.77 169.55,280.37 154.35,280.37" fill="#ff0000"/><circle cx="184.52" cy="286.14" r="4.2" fill="#fff" stroke="#c8c8c8" stroke-width="0.7"/><polygon points="199.39,290.72 204.64,301.12 194.14,301.12" fill="#ff0000"/><polygon points="270.98,290.57 276.23,300.97 265.73,300.97" fill="#ff0000"/><polygon points="142.58,299.9 147.83,310.3 137.33,310.3" fill="#f47a7a"/><polygon points="155.36,299.1 160.61,309.5 150.11,309.5" fill="#ff0000"/><polygon points="210.27,309.78 215.52,320.18 205.02,320.18" fill="#ff0000"/><polygon points="239.13,310.52 244.38,320.92 233.88,320.92" fill="#ff0000"/><polygon points="109.83,313.86 117.43,329.46 102.23,329.46" fill="#ff0000"/><polygon points="308.42,313.67 313.67,324.07 303.17,324.07" fill="#f47a7a"/><polygon points="333.08,311.27 338.33,321.67 327.83,321.67" fill="#f47a7a"/><polygon points="100.45,329.83 105.7,340.23 95.2,340.23" fill="#ff0000"/><polygon points="138.89,330.48 144.14,340.88 133.64,340.88" fill="#f47a7a"/><polygon points="149.97,332.02 155.22,342.42 144.72,342.42" fill="#f47a7a"/><polygon points="167.84,324.74 173.09,335.14 162.59,335.14" fill="#f47a7a"/><polygon points="176.13,327.88 183.73,343.48 168.53,343.48" fill="#ff0000"/><polygon points="236.23,331.53 241.48,341.93 230.98,341.93" fill="#f47a7a"/><polygon points="284.76,325.03 292.36,340.63 277.16,340.63" fill="#ff0000"/><polygon points="305.42,324.54 310.67,334.94 300.17,334.94" fill="#f47a7a"/><polygon points="203.29,343.3 208.54,353.7 198.04,353.7" fill="#f47a7a"/><polygon points="347.86,337.81 353.11,348.21 342.61,348.21" fill="#ff0000"/></g>
<text class="tt" x="390.4" y="243.8" font-size="13.4">HWF</text><text class="lg" x="390.7" y="263.2" font-size="11.45">[days/decade ]</text><polygon points="391.5,268.5 407.7,268.5 399.6,284.7" fill="#0b4ef5"/><text class="lg" x="411.6" y="280.8" font-size="11.45">-6 - 3</text><polygon points="394.35,289.95 404.85,289.95 399.6,300.45" fill="#0b4ef5"/><text class="lg" x="411.6" y="299.4" font-size="11.45">-3 - 0</text><polygon points="399.6,308.3 404.85,318.7 394.35,318.7" fill="#ff0000"/><text class="lg" x="411.6" y="317.7" font-size="11.45">0 - 3</text><polygon points="399.6,324.2 407.4,339.8 391.8,339.8" fill="#ff0000"/><text class="lg" x="411.6" y="336.2" font-size="11.45">3 - 6</text><polygon points="394.35,345.55 404.85,345.55 399.6,356.05" fill="#72a0e2"/><text class="lg" x="411.6" y="354.4" font-size="11.45">neg. but n. s. at 5%</text><circle cx="399.6" cy="368.6" r="4.8" fill="#fff" stroke="#cfcfcf" stroke-width="0.9"/><text class="lg" x="411.6" y="372.2" font-size="11.45">zero trend</text><polygon points="399.6,382 404.85,392.4 394.35,392.4" fill="#f47a7a"/><text class="lg" x="411.6" y="390.8" font-size="11.45">pos. but n. s. at 5%</text>
<text class="lb" x="248.5" y="419.6" font-size="25.5" text-anchor="middle">(<tspan font-weight="bold">c</tspan>)</text>
<use href="#map" x="520.3" y="217.1" width="377.1" height="174.4"/>
<g><text x="527.66" y="226.36" class="tk" font-size="8.06">40</text><text x="527.66" y="388.41" class="tk" font-size="8.06">40</text><text x="582.47" y="226.36" class="tk" font-size="8.06">41</text><text x="582.47" y="388.41" class="tk" font-size="8.06">41</text><text x="636.98" y="226.36" class="tk" font-size="8.06">42</text><text x="636.98" y="388.41" class="tk" font-size="8.06">42</text><text x="691.89" y="226.36" class="tk" font-size="8.06">43</text><text x="691.89" y="388.41" class="tk" font-size="8.06">43</text><text x="747" y="226.36" class="tk" font-size="8.06">44</text><text x="747" y="388.41" class="tk" font-size="8.06">44</text><text x="801.51" y="226.36" class="tk" font-size="8.06">45</text><text x="801.51" y="388.41" class="tk" font-size="8.06">45</text><text x="856.52" y="226.36" class="tk" font-size="8.06">46</text><text x="856.52" y="388.41" class="tk" font-size="8.06">46</text><text x="527.76" y="262.89" class="tk" font-size="8.06">43</text><text x="889.14" y="262.89" class="tk" font-size="8.06">43</text><text x="527.76" y="317.74" class="tk" font-size="8.06">42</text><text x="889.14" y="317.74" class="tk" font-size="8.06">42</text><text x="527.76" y="372.29" class="tk" font-size="8.06">41</text><text x="889.14" y="372.29" class="tk" font-size="8.06">41</text></g>
<g><polygon points="617.01,249.38 627.51,249.38 622.26,259.88" fill="#72a0e2"/><polygon points="676.67,267.64 681.92,278.04 671.42,278.04" fill="#f47a7a"/><polygon points="693.9,281.13 704.4,281.13 699.15,291.63" fill="#72a0e2"/><polygon points="713.97,290.94 719.22,301.34 708.72,301.34" fill="#f47a7a"/><polygon points="785.29,290.79 790.54,301.19 780.04,301.19" fill="#f47a7a"/><polygon points="657.37,300.1 662.62,310.5 652.12,310.5" fill="#f47a7a"/><polygon points="670.11,299.3 675.36,309.7 664.86,309.7" fill="#f47a7a"/><polygon points="724.82,309.95 730.07,320.35 719.57,320.35" fill="#ff0000"/><polygon points="753.56,310.7 758.81,321.1 748.31,321.1" fill="#f47a7a"/><polygon points="624.75,314.02 632.35,329.62 617.15,329.62" fill="#ff0000"/><polygon points="817.35,313.78 827.85,313.78 822.6,324.28" fill="#72a0e2"/><polygon points="841.92,311.39 852.42,311.39 847.17,321.89" fill="#72a0e2"/><polygon points="615.4,329.96 620.65,340.36 610.15,340.36" fill="#f47a7a"/><polygon points="648.44,330.56 658.94,330.56 653.69,341.06" fill="#72a0e2"/><polygon points="664.73,332.15 669.98,342.55 659.48,342.55" fill="#f47a7a"/><polygon points="682.54,324.88 687.79,335.28 677.29,335.28" fill="#f47a7a"/><polygon points="690.8,330.61 696.05,341.01 685.55,341.01" fill="#f47a7a"/><polygon points="745.43,331.6 755.93,331.6 750.68,342.1" fill="#72a0e2"/><polygon points="799.02,327.77 804.27,338.17 793.77,338.17" fill="#f47a7a"/><polygon points="819.61,324.68 824.86,335.08 814.36,335.08" fill="#f47a7a"/><polygon points="717.85,343.4 723.1,353.8 712.6,353.8" fill="#f47a7a"/><polygon points="861.89,337.92 867.14,348.32 856.64,348.32" fill="#f47a7a"/></g>
<text class="tt" x="904.8" y="244.05" font-size="14.1">HWA</text><text class="lg" x="905.1" y="262.6" font-size="11.45">[°C²/decade]</text><polygon points="905.4,268.4 921.6,268.4 913.5,284.6" fill="#0b4ef5"/><text class="lg" x="925.8" y="280.7" font-size="11.45">-4 - -2</text><polygon points="908.25,289.85 918.75,289.85 913.5,300.35" fill="#0b4ef5"/><text class="lg" x="925.8" y="299.3" font-size="11.45">-2 - 0</text><polygon points="913.5,308.1 918.75,318.5 908.25,318.5" fill="#ff0000"/><text class="lg" x="925.8" y="317.5" font-size="11.45">0 - 2</text><polygon points="913.5,324.1 921.3,339.7 905.7,339.7" fill="#ff0000"/><text class="lg" x="925.8" y="336.1" font-size="11.45">2 - 4</text><polygon points="908.25,345.35 918.75,345.35 913.5,355.85" fill="#72a0e2"/><text class="lg" x="925.8" y="354.2" font-size="11.45">neg. but n. s. at 5%</text><circle cx="913.5" cy="368" r="4.8" fill="#fff" stroke="#cfcfcf" stroke-width="0.9"/><text class="lg" x="925.8" y="371.6" font-size="11.45">zero trend</text><polygon points="913.5,381.1 918.75,391.5 908.25,391.5" fill="#f47a7a"/><text class="lg" x="925.8" y="389.9" font-size="11.45">pos. but n. s. at 5%</text>
<text class="lb" x="762.4" y="419.6" font-size="25.5" text-anchor="middle">(<tspan font-weight="bold">d</tspan>)</text>
<use href="#map" x="5" y="428" width="374.4" height="173.8"/>
<g><text x="12.31" y="437.23" class="tk" font-size="8.02">40</text><text x="12.31" y="598.72" class="tk" font-size="8.02">40</text><text x="66.73" y="437.23" class="tk" font-size="8.02">41</text><text x="66.73" y="598.72" class="tk" font-size="8.02">41</text><text x="120.85" y="437.23" class="tk" font-size="8.02">42</text><text x="120.85" y="598.72" class="tk" font-size="8.02">42</text><text x="175.36" y="437.23" class="tk" font-size="8.02">43</text><text x="175.36" y="598.72" class="tk" font-size="8.02">43</text><text x="230.07" y="437.23" class="tk" font-size="8.02">44</text><text x="230.07" y="598.72" class="tk" font-size="8.02">44</text><text x="284.2" y="437.23" class="tk" font-size="8.02">45</text><text x="284.2" y="598.72" class="tk" font-size="8.02">45</text><text x="338.81" y="437.23" class="tk" font-size="8.02">46</text><text x="338.81" y="598.72" class="tk" font-size="8.02">46</text><text x="12.41" y="473.63" class="tk" font-size="8.02">43</text><text x="371.2" y="473.63" class="tk" font-size="8.02">43</text><text x="12.41" y="528.29" class="tk" font-size="8.02">42</text><text x="371.2" y="528.29" class="tk" font-size="8.02">42</text><text x="12.41" y="582.65" class="tk" font-size="8.02">41</text><text x="371.2" y="582.65" class="tk" font-size="8.02">41</text></g>
<g><polygon points="100.98,460.15 111.48,460.15 106.23,470.65" fill="#72a0e2"/><polygon points="160.25,478.35 165.5,488.75 155,488.75" fill="#f47a7a"/><polygon points="177.32,491.79 187.82,491.79 182.57,502.29" fill="#72a0e2"/><polygon points="197.29,501.57 202.54,511.97 192.04,511.97" fill="#f47a7a"/><polygon points="262.85,501.37 273.35,501.37 268.1,511.87" fill="#0b4ef5"/><circle cx="141.09" cy="515.89" r="4.2" fill="#fff" stroke="#c8c8c8" stroke-width="0.7"/><polygon points="148.48,509.85 158.98,509.85 153.73,520.35" fill="#72a0e2"/><polygon points="208.05,517.91 215.65,533.51 200.45,533.51" fill="#ff0000"/><circle cx="236.59" cy="526.46" r="4.2" fill="#fff" stroke="#c8c8c8" stroke-width="0.7"/><polygon points="108.7,524.56 116.3,540.16 101.1,540.16" fill="#ff0000"/><polygon points="299.88,524.33 310.38,524.33 305.13,534.83" fill="#72a0e2"/><polygon points="324.28,521.95 334.78,521.95 329.53,532.45" fill="#72a0e2"/><polygon points="94.16,540.4 104.66,540.4 99.41,550.9" fill="#72a0e2"/><polygon points="132.19,541.05 142.69,541.05 137.44,551.55" fill="#72a0e2"/><polygon points="148.4,542.63 153.65,553.03 143.15,553.03" fill="#f47a7a"/><circle cx="166.08" cy="540.59" r="4.2" fill="#fff" stroke="#c8c8c8" stroke-width="0.7"/><polygon points="174.28,541.1 179.53,551.5 169.03,551.5" fill="#f47a7a"/><polygon points="228.48,542.09 238.98,542.09 233.73,552.59" fill="#72a0e2"/><circle cx="281.73" cy="543.47" r="4.2" fill="#fff" stroke="#c8c8c8" stroke-width="0.7"/><polygon points="302.17,535.19 307.42,545.59 296.92,545.59" fill="#f47a7a"/><polygon points="201.14,553.84 206.39,564.24 195.89,564.24" fill="#f47a7a"/><polygon points="344.14,548.39 349.39,558.79 338.89,558.79" fill="#f47a7a"/></g>
<text class="tt" x="386.6" y="454.3" font-size="14.8">HWM</text><text class="lg" x="386.9" y="473.6" font-size="11.45">[°C²/decade]</text><polygon points="387.9,479.2 404.1,479.2 396,495.4" fill="#0b4ef5"/><text class="lg" x="408" y="491.5" font-size="11.45">-0.8 - -0.4</text><polygon points="390.75,500.85 401.25,500.85 396,511.35" fill="#0b4ef5"/><text class="lg" x="408" y="510.3" font-size="11.45">-0.4 - 0</text><polygon points="396,519 401.25,529.4 390.75,529.4" fill="#ff0000"/><text class="lg" x="408" y="528.4" font-size="11.45">0 - 0.4</text><polygon points="396,534.7 403.8,550.3 388.2,550.3" fill="#ff0000"/><text class="lg" x="408" y="546.7" font-size="11.45">0.4 - 0.8</text><polygon points="390.75,556.25 401.25,556.25 396,566.75" fill="#72a0e2"/><text class="lg" x="408" y="565.1" font-size="11.45">neg. but n. s. at 5%</text><circle cx="396" cy="578.9" r="4.8" fill="#fff" stroke="#cfcfcf" stroke-width="0.9"/><text class="lg" x="408" y="582.5" font-size="11.45">zero trend</text><polygon points="396,592 401.25,602.4 390.75,602.4" fill="#f47a7a"/><text class="lg" x="408" y="600.8" font-size="11.45">pos. but n. s. at 5%</text>
<text class="lb" x="248.5" y="631.3" font-size="25.5" text-anchor="middle">(<tspan font-weight="bold">e</tspan>)</text>
<use href="#map" x="520.3" y="427.9" width="374.7" height="174.2"/>
<g><text x="527.61" y="437.15" class="tk" font-size="8.03">40</text><text x="527.61" y="599.02" class="tk" font-size="8.03">40</text><text x="582.07" y="437.15" class="tk" font-size="8.03">41</text><text x="582.07" y="599.02" class="tk" font-size="8.03">41</text><text x="636.24" y="437.15" class="tk" font-size="8.03">42</text><text x="636.24" y="599.02" class="tk" font-size="8.03">42</text><text x="690.8" y="437.15" class="tk" font-size="8.03">43</text><text x="690.8" y="599.02" class="tk" font-size="8.03">43</text><text x="745.55" y="437.15" class="tk" font-size="8.03">44</text><text x="745.55" y="599.02" class="tk" font-size="8.03">44</text><text x="799.72" y="437.15" class="tk" font-size="8.03">45</text><text x="799.72" y="599.02" class="tk" font-size="8.03">45</text><text x="854.38" y="437.15" class="tk" font-size="8.03">46</text><text x="854.38" y="599.02" class="tk" font-size="8.03">46</text><text x="527.71" y="473.64" class="tk" font-size="8.03">43</text><text x="886.8" y="473.64" class="tk" font-size="8.03">43</text><text x="527.71" y="528.42" class="tk" font-size="8.03">42</text><text x="886.8" y="528.42" class="tk" font-size="8.03">42</text><text x="527.71" y="582.91" class="tk" font-size="8.03">41</text><text x="886.8" y="582.91" class="tk" font-size="8.03">41</text></g>
<g><polygon points="621.61,460.18 626.86,470.58 616.36,470.58" fill="#ff0000"/><polygon points="675.68,475.78 683.28,491.38 668.08,491.38" fill="#ff0000"/><circle cx="698.01" cy="497.1" r="4.2" fill="#fff" stroke="#c8c8c8" stroke-width="0.7"/><polygon points="712.74,501.65 717.99,512.05 707.49,512.05" fill="#f47a7a"/><polygon points="783.61,498.9 791.21,514.5 776.01,514.5" fill="#ff0000"/><polygon points="656.5,510.79 661.75,521.19 651.25,521.19" fill="#ff0000"/><polygon points="669.15,507.4 676.75,523 661.55,523" fill="#ff0000"/><polygon points="723.51,520.64 728.76,531.04 718.26,531.04" fill="#f47a7a"/><circle cx="752.08" cy="526.58" r="4.2" fill="#fff" stroke="#c8c8c8" stroke-width="0.7"/><polygon points="624.08,524.7 631.68,540.3 616.48,540.3" fill="#ff0000"/><polygon points="820.67,524.52 825.92,534.92 815.42,534.92" fill="#ff0000"/><polygon points="845.09,522.13 850.34,532.53 839.84,532.53" fill="#ff0000"/><polygon points="614.79,540.62 620.04,551.02 609.54,551.02" fill="#f47a7a"/><polygon points="652.84,541.27 658.09,551.67 647.59,551.67" fill="#f47a7a"/><polygon points="663.81,540.21 671.41,555.81 656.21,555.81" fill="#ff0000"/><polygon points="681.51,535.55 686.76,545.95 676.26,545.95" fill="#f47a7a"/><polygon points="689.71,538.67 697.31,554.27 682.11,554.27" fill="#ff0000"/><polygon points="749.21,542.31 754.46,552.71 743.96,552.71" fill="#f47a7a"/><polygon points="797.25,535.84 804.85,551.44 789.65,551.44" fill="#ff0000"/><polygon points="817.71,535.35 822.96,545.75 812.46,545.75" fill="#ff0000"/><polygon points="716.59,554.05 721.84,564.45 711.34,564.45" fill="#f47a7a"/><polygon points="859.71,545.98 867.31,561.58 852.11,561.58" fill="#ff0000"/></g>
<text class="tt" x="902.2" y="453.13" font-size="14.6">HWdays</text><text class="lg" x="902.5" y="472.6" font-size="11.45">[days/decade]</text><polygon points="903.2,478 919.4,478 911.3,494.2" fill="#0b4ef5"/><text class="lg" x="923.5" y="490.3" font-size="11.45">-6 - -3</text><polygon points="906.05,499.55 916.55,499.55 911.3,510.05" fill="#0b4ef5"/><text class="lg" x="923.5" y="509" font-size="11.45">-3 - 0</text><polygon points="911.3,518.1 916.55,528.5 906.05,528.5" fill="#ff0000"/><text class="lg" x="923.5" y="527.5" font-size="11.45">0 - 3</text><polygon points="911.3,533.8 919.1,549.4 903.5,549.4" fill="#ff0000"/><text class="lg" x="923.5" y="545.8" font-size="11.45">3 - 6</text><polygon points="906.05,555.35 916.55,555.35 911.3,565.85" fill="#72a0e2"/><text class="lg" x="923.5" y="564.2" font-size="11.45">neg. but n. s. at 5%</text><circle cx="911.3" cy="578" r="4.8" fill="#fff" stroke="#cfcfcf" stroke-width="0.9"/><text class="lg" x="923.5" y="581.6" font-size="11.45">zero trend</text><polygon points="911.3,590.7 916.55,601.1 906.05,601.1" fill="#f47a7a"/><text class="lg" x="923.5" y="599.5" font-size="11.45">pos. but n. s. at 5%</text>
<text class="lb" x="762.4" y="631.3" font-size="25.5" text-anchor="middle">(<tspan font-weight="bold">f</tspan>)</text>
<use href="#map" x="5" y="640" width="374.1" height="173.2"/>
<g><text x="12.3" y="649.19" class="tk" font-size="8">40</text><text x="12.3" y="810.14" class="tk" font-size="8">40</text><text x="66.68" y="649.19" class="tk" font-size="8">41</text><text x="66.68" y="810.14" class="tk" font-size="8">41</text><text x="120.75" y="649.19" class="tk" font-size="8">42</text><text x="120.75" y="810.14" class="tk" font-size="8">42</text><text x="175.22" y="649.19" class="tk" font-size="8">43</text><text x="175.22" y="810.14" class="tk" font-size="8">43</text><text x="229.89" y="649.19" class="tk" font-size="8">44</text><text x="229.89" y="810.14" class="tk" font-size="8">44</text><text x="283.97" y="649.19" class="tk" font-size="8">45</text><text x="283.97" y="810.14" class="tk" font-size="8">45</text><text x="338.54" y="649.19" class="tk" font-size="8">46</text><text x="338.54" y="810.14" class="tk" font-size="8">46</text><text x="12.4" y="685.47" class="tk" font-size="8">43</text><text x="370.91" y="685.47" class="tk" font-size="8">43</text><text x="12.4" y="739.95" class="tk" font-size="8">42</text><text x="370.91" y="739.95" class="tk" font-size="8">42</text><text x="12.4" y="794.12" class="tk" font-size="8">41</text><text x="370.91" y="794.12" class="tk" font-size="8">41</text></g>
<g><circle cx="106.15" cy="677.27" r="4.2" fill="#fff" stroke="#c8c8c8" stroke-width="0.7"/><polygon points="160.13,690.16 165.38,700.56 154.88,700.56" fill="#f47a7a"/><circle cx="182.43" cy="708.81" r="4.2" fill="#fff" stroke="#c8c8c8" stroke-width="0.7"/><polygon points="197.13,710.69 204.73,726.29 189.53,726.29" fill="#ff0000"/><polygon points="267.89,713.15 273.14,723.55 262.64,723.55" fill="#f47a7a"/><polygon points="140.98,719.79 148.58,735.39 133.38,735.39" fill="#ff0000"/><circle cx="153.61" cy="726.8" r="4.2" fill="#fff" stroke="#c8c8c8" stroke-width="0.7"/><polygon points="207.89,732.18 213.14,742.58 202.64,742.58" fill="#f47a7a"/><circle cx="236.41" cy="738.12" r="4.2" fill="#fff" stroke="#c8c8c8" stroke-width="0.7"/><polygon points="108.62,736.2 116.22,751.8 101.02,751.8" fill="#ff0000"/><circle cx="304.89" cy="741.23" r="4.2" fill="#fff" stroke="#c8c8c8" stroke-width="0.7"/><polygon points="329.27,733.66 334.52,744.06 324.02,744.06" fill="#f47a7a"/><circle cx="99.34" cy="757.25" r="4.2" fill="#fff" stroke="#c8c8c8" stroke-width="0.7"/><circle cx="137.33" cy="757.89" r="4.2" fill="#fff" stroke="#c8c8c8" stroke-width="0.7"/><polygon points="148.28,754.22 153.53,764.62 143.03,764.62" fill="#f47a7a"/><circle cx="165.95" cy="752.2" r="4.2" fill="#fff" stroke="#c8c8c8" stroke-width="0.7"/><circle cx="174.14" cy="757.89" r="4.2" fill="#fff" stroke="#c8c8c8" stroke-width="0.7"/><circle cx="233.55" cy="758.93" r="4.2" fill="#fff" stroke="#c8c8c8" stroke-width="0.7"/><polygon points="281.5,749.87 286.75,760.27 276.25,760.27" fill="#f47a7a"/><polygon points="301.93,746.81 307.18,757.21 296.68,757.21" fill="#f47a7a"/><circle cx="200.98" cy="770.59" r="4.2" fill="#fff" stroke="#c8c8c8" stroke-width="0.7"/><circle cx="343.87" cy="765.15" r="4.2" fill="#fff" stroke="#c8c8c8" stroke-width="0.7"/></g>
<text class="tt" x="386" y="666.06" font-size="14.7">HWsev</text><text class="lg" x="386.3" y="685.8" font-size="11.45">[days/decade]</text><polygon points="387.7,690.3 403.9,690.3 395.8,706.5" fill="#0b4ef5"/><text class="lg" x="407.6" y="702.6" font-size="11.45">-1 - -0.5</text><polygon points="390.55,711.95 401.05,711.95 395.8,722.45" fill="#0b4ef5"/><text class="lg" x="407.6" y="721.4" font-size="11.45">-0.5 - 0</text><polygon points="395.8,730.1 401.05,740.5 390.55,740.5" fill="#ff0000"/><text class="lg" x="407.6" y="739.5" font-size="11.45">0 - 0.5</text><polygon points="395.8,745.8 403.6,761.4 388,761.4" fill="#ff0000"/><text class="lg" x="407.6" y="757.8" font-size="11.45">0.5 - 1</text><polygon points="390.55,766.65 401.05,766.65 395.8,777.15" fill="#72a0e2"/><text class="lg" x="407.6" y="775.5" font-size="11.45">neg. but n. s. at 5%</text><circle cx="395.8" cy="789.8" r="4.8" fill="#fff" stroke="#cfcfcf" stroke-width="0.9"/><text class="lg" x="407.6" y="793.4" font-size="11.45">zero trend</text><polygon points="395.8,802.7 401.05,813.1 390.55,813.1" fill="#f47a7a"/><text class="lg" x="407.6" y="811.5" font-size="11.45">pos. but n. s. at 5%</text>
<text class="lb" x="248.5" y="842.7" font-size="25.5" text-anchor="middle">(<tspan font-weight="bold">g</tspan>)</text>
<use href="#map" x="520.3" y="641.5" width="370.9" height="172"/>
<g><text x="527.54" y="650.63" class="tk" font-size="7.94">40</text><text x="527.54" y="810.46" class="tk" font-size="7.94">40</text><text x="581.45" y="650.63" class="tk" font-size="7.94">41</text><text x="581.45" y="810.46" class="tk" font-size="7.94">41</text><text x="635.06" y="650.63" class="tk" font-size="7.94">42</text><text x="635.06" y="810.46" class="tk" font-size="7.94">42</text><text x="689.07" y="650.63" class="tk" font-size="7.94">43</text><text x="689.07" y="810.46" class="tk" font-size="7.94">43</text><text x="743.27" y="650.63" class="tk" font-size="7.94">44</text><text x="743.27" y="810.46" class="tk" font-size="7.94">44</text><text x="796.89" y="650.63" class="tk" font-size="7.94">45</text><text x="796.89" y="810.46" class="tk" font-size="7.94">45</text><text x="850.99" y="650.63" class="tk" font-size="7.94">46</text><text x="850.99" y="810.46" class="tk" font-size="7.94">46</text><text x="527.64" y="686.66" class="tk" font-size="7.94">43</text><text x="883.08" y="686.66" class="tk" font-size="7.94">43</text><text x="527.64" y="740.75" class="tk" font-size="7.94">42</text><text x="883.08" y="740.75" class="tk" font-size="7.94">42</text><text x="527.64" y="794.55" class="tk" font-size="7.94">41</text><text x="883.08" y="794.55" class="tk" font-size="7.94">41</text></g>
<g><polygon points="620.58,673.31 625.83,683.71 615.33,683.71" fill="#ff0000"/><polygon points="674.1,691.28 679.35,701.68 668.85,701.68" fill="#f47a7a"/><circle cx="696.21" cy="709.83" r="4.2" fill="#fff" stroke="#c8c8c8" stroke-width="0.7"/><circle cx="710.79" cy="719.45" r="4.2" fill="#fff" stroke="#c8c8c8" stroke-width="0.7"/><polygon points="780.94,714.1 786.19,724.5 775.69,724.5" fill="#f47a7a"/><circle cx="655.12" cy="728.48" r="4.2" fill="#fff" stroke="#c8c8c8" stroke-width="0.7"/><circle cx="667.64" cy="727.7" r="4.2" fill="#fff" stroke="#c8c8c8" stroke-width="0.7"/><circle cx="721.45" cy="738.2" r="4.2" fill="#fff" stroke="#c8c8c8" stroke-width="0.7"/><circle cx="749.73" cy="738.94" r="4.2" fill="#fff" stroke="#c8c8c8" stroke-width="0.7"/><circle cx="623.03" cy="744.78" r="4.2" fill="#fff" stroke="#c8c8c8" stroke-width="0.7"/><circle cx="817.63" cy="742.03" r="4.2" fill="#fff" stroke="#c8c8c8" stroke-width="0.7"/><polygon points="836.54,734.42 847.04,734.42 841.79,744.92" fill="#72a0e2"/><circle cx="613.83" cy="757.93" r="4.2" fill="#fff" stroke="#c8c8c8" stroke-width="0.7"/><polygon points="651.5,753.37 656.75,763.77 646.25,763.77" fill="#f47a7a"/><circle cx="662.36" cy="760.09" r="4.2" fill="#fff" stroke="#c8c8c8" stroke-width="0.7"/><polygon points="679.87,747.73 685.12,758.13 674.62,758.13" fill="#f47a7a"/><polygon points="687.99,753.37 693.24,763.77 682.74,763.77" fill="#f47a7a"/><circle cx="746.89" cy="759.6" r="4.2" fill="#fff" stroke="#c8c8c8" stroke-width="0.7"/><polygon points="794.44,750.57 799.69,760.97 789.19,760.97" fill="#f47a7a"/><polygon points="809.44,747.48 819.94,747.48 814.69,757.98" fill="#72a0e2"/><circle cx="714.6" cy="771.19" r="4.2" fill="#fff" stroke="#c8c8c8" stroke-width="0.7"/><polygon points="856.27,760.59 861.52,770.99 851.02,770.99" fill="#f47a7a"/></g>
<text class="tt" x="898.8" y="667.77" font-size="15">HWext</text><text class="lg" x="899.1" y="687.1" font-size="11.45">[days/decade]</text><polygon points="899.2,691.8 915.4,691.8 907.3,708" fill="#0b4ef5"/><text class="lg" x="919.3" y="704.1" font-size="11.45">-1 - -0.5</text><polygon points="902.05,713.15 912.55,713.15 907.3,723.65" fill="#0b4ef5"/><text class="lg" x="919.3" y="722.6" font-size="11.45">-0.5 - 0</text><polygon points="907.3,731 912.55,741.4 902.05,741.4" fill="#ff0000"/><text class="lg" x="919.3" y="740.4" font-size="11.45">0 - 0.5</text><polygon points="907.3,746.8 915.1,762.4 899.5,762.4" fill="#ff0000"/><text class="lg" x="919.3" y="758.8" font-size="11.45">0.5 - 1</text><polygon points="902.05,767.55 912.55,767.55 907.3,778.05" fill="#72a0e2"/><text class="lg" x="919.3" y="776.4" font-size="11.45">neg. but n. s. at 5%</text><circle cx="907.3" cy="790.2" r="4.8" fill="#fff" stroke="#cfcfcf" stroke-width="0.9"/><text class="lg" x="919.3" y="793.8" font-size="11.45">zero trend</text><polygon points="907.3,802.9 912.55,813.3 902.05,813.3" fill="#f47a7a"/><text class="lg" x="919.3" y="811.7" font-size="11.45">pos. but n. s. at 5%</text>
<text class="lb" x="762.5" y="842.7" font-size="25.5" text-anchor="middle">(<tspan font-weight="bold">h</tspan>)</text>
</svg>
</body></html>
